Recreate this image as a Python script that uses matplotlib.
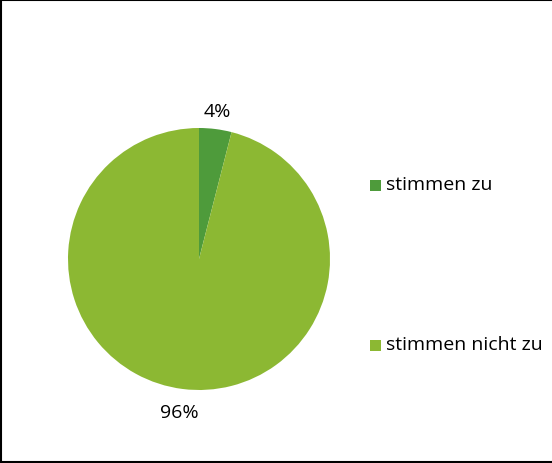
import matplotlib
matplotlib.use("Agg")
import matplotlib.pyplot as plt
from matplotlib.patches import Rectangle
from matplotlib.lines import Line2D

labels = ["stimmen zu", "stimmen nicht zu"]
values = [4, 96]
colors = ["#4E9B3B", "#8CB833"]

plt.rcParams['font.family'] = ['Open Sans', 'DejaVu Sans']

W, H = 552, 464
fig = plt.figure(figsize=(W/100, H/100), dpi=100)
cx, cy, r = 199, 260, 131
ax = fig.add_axes([(cx - r)/W, 1 - (cy + r)/H, 2*r/W, 2*r/H])
wedges, texts, autotexts = ax.pie(values, colors=colors, startangle=90, counterclock=False,
                                  autopct=lambda p: f"{p:.0f}%", pctdistance=1.14,
                                  radius=1.0, wedgeprops=dict(linewidth=0),
                                  textprops=dict(fontsize=14, color="black"))
# slight outward nudge of the lower label, as in the reference
x96, y96 = autotexts[1].get_position()
autotexts[1].set_position((x96 * 1.03, y96 * 1.03))
ax.set_xlim(-1, 1)
ax.set_ylim(-1, 1)
ax.set_aspect('auto')

# legend
ys = [186, 346]
for lab, col, y in zip(labels, colors, ys):
    fig.patches.append(Rectangle((370/W, 1 - (y + 6)/H), 11/W, 11/H, transform=fig.transFigure,
                                 facecolor=col, edgecolor='none'))
    fig.text(386/W, 1 - (y - 1)/H, lab, fontsize=14, va='center', ha='left', color="black")

# border (top, left, bottom)
lw = 1.5
fig.lines.append(Line2D([0, 1], [1 - 1/H, 1 - 1/H], transform=fig.transFigure, color='black', linewidth=lw))
fig.lines.append(Line2D([1/W, 1/W], [0, 1], transform=fig.transFigure, color='black', linewidth=lw))
fig.lines.append(Line2D([0, 1], [1.5/H, 1.5/H], transform=fig.transFigure, color='black', linewidth=lw))

fig.savefig("out.png", dpi=100)
